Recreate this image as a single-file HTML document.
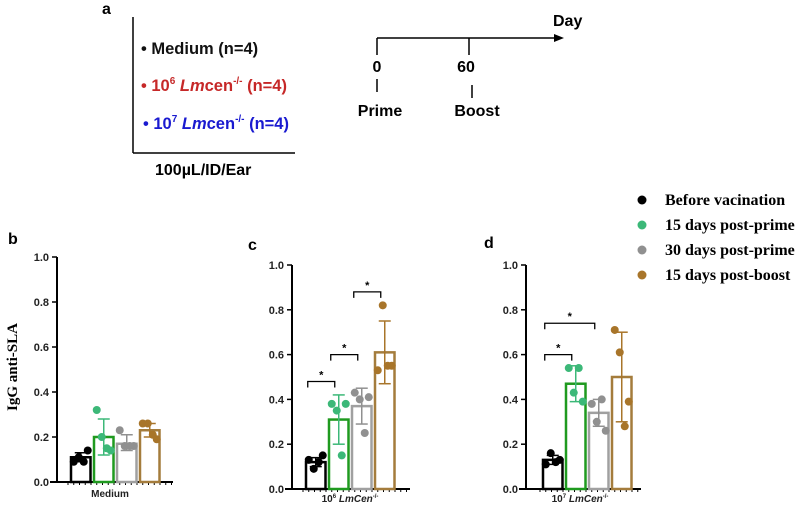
<!DOCTYPE html>
<html><head><meta charset="utf-8"><style>
body{margin:0;background:#fff;width:800px;height:514px;overflow:hidden}
svg{display:block}
.s{font-family:"Liberation Sans",sans-serif;font-weight:bold}
.r{font-family:"Liberation Serif",serif;font-weight:bold}
</style></head><body>
<svg id="fig" width="800" height="514">
<g>
<text class="s" x="102" y="14" font-size="16">a</text>
<line x1="133" y1="17" x2="133" y2="153" stroke="#000" stroke-width="1.5"/>
<line x1="133" y1="153" x2="295" y2="153" stroke="#000" stroke-width="1.5"/>
<text class="s" x="141" y="54" font-size="16.5" fill="#111">• Medium (n=4)</text>
<text class="s" x="141" y="91" font-size="16.5" fill="#c62828">• 10<tspan font-size="10" dy="-7">6</tspan><tspan dy="7" font-style="italic"> Lm</tspan>cen<tspan font-size="10" dy="-7">-/-</tspan><tspan dy="7"> (n=4)</tspan></text>
<text class="s" x="143" y="129" font-size="16.5" fill="#1a1ad0">• 10<tspan font-size="10" dy="-7">7</tspan><tspan dy="7" font-style="italic"> Lm</tspan>cen<tspan font-size="10" dy="-7">-/-</tspan><tspan dy="7"> (n=4)</tspan></text>
<text class="s" x="155" y="175" font-size="16">100µL/ID/Ear</text>
<line x1="377" y1="38" x2="556" y2="38" stroke="#000" stroke-width="1.5"/>
<polygon points="564,38 554,34 554,42" fill="#000"/>
<text class="s" x="553" y="26" font-size="16">Day</text>
<line x1="377" y1="38" x2="377" y2="55" stroke="#000" stroke-width="1.5"/>
<line x1="469" y1="38" x2="469" y2="55" stroke="#000" stroke-width="1.5"/>
<text class="s" x="377" y="72" font-size="16" text-anchor="middle">0</text>
<text class="s" x="466" y="72" font-size="16" text-anchor="middle">60</text>
<line x1="377" y1="79" x2="377" y2="92" stroke="#000" stroke-width="1.5"/>
<line x1="472" y1="85" x2="472" y2="98" stroke="#000" stroke-width="1.5"/>
<text class="s" x="380" y="116" font-size="16" text-anchor="middle">Prime</text>
<text class="s" x="477" y="116" font-size="16" text-anchor="middle">Boost</text>
</g>
<g id="legend"></g>
<g id="charts"></g>
</svg>
<script>
const groups=["Before vacination","15 days post-prime","30 days post-prime","15 days post-boost"];
const dotColors=["#000","#3cb878","#909090","#a8752a"];
const barColors=["#000","#1f9a1f","#a0a0a0","#a47c3c"];
const medMeans=[0.11,0.20,0.17,0.23];
const medHi=[0.13,0.28,0.21,0.26];
const medLo=[0.09,0.12,0.14,0.20];
const medPts=[[0.09,0.11,0.14,0.09],[0.32,0.20,0.14,0.15],[0.23,0.16,0.16,0.16],[0.26,0.26,0.19,0.21]];
const e6Means=[0.12,0.31,0.37,0.61];
const e6Hi=[0.14,0.42,0.45,0.75];
const e6Lo=[0.10,0.20,0.29,0.47];
const e6Pts=[[0.13,0.09,0.15,0.12],[0.38,0.35,0.38,0.15],[0.43,0.40,0.41,0.25],[0.53,0.82,0.55,0.55]];
const e7Means=[0.13,0.47,0.34,0.50];
const e7Hi=[0.15,0.55,0.40,0.70];
const e7Lo=[0.11,0.39,0.28,0.30];
const e7Pts=[[0.11,0.16,0.13,0.12],[0.54,0.43,0.39,0.54],[0.38,0.30,0.26,0.40],[0.71,0.61,0.39,0.28]];
const ticks=[0,0.2,0.4,0.6,0.8,1.0];
const NS="http://www.w3.org/2000/svg";
function mk(p,t,a){const e=document.createElementNS(NS,t);for(const k in a)e.setAttribute(k,a[k]);p.appendChild(e);return e;}
const root=document.getElementById('charts');
const leg=document.getElementById('legend');
groups.forEach((g,i)=>{
  const y=200+i*25;
  const c=mk(leg,'circle',{cx:642,cy:y,r:4.5,fill:dotColors[i]});
  
  
  const t=mk(leg,'text',{x:665,y:y+5,'font-size':16,class:'r'});t.textContent=g;
  
  
});
const panels=[
 {name:'b',ax:57,y0:482,y1:257,bx:70,xend:173,means:medMeans,hi:medHi,lo:medLo,pts:medPts,lab:[8,244],xl:'Medium',xlx:110,xly:497,sigs:[]},
 {name:'c',ax:292,y0:489,y1:265,bx:305,xend:410,means:e6Means,hi:e6Hi,lo:e6Lo,pts:e6Pts,lab:[248,250],xl:'6',xlx:350,xly:502,sigs:[[0,1,0.48],[1,2,0.60],[2,3,0.88]]},
 {name:'d',ax:526,y0:489,y1:265,bx:542,xend:641,means:e7Means,hi:e7Hi,lo:e7Lo,pts:e7Pts,lab:[484,248],xl:'7',xlx:580,xly:502,sigs:[[0,1,0.6],[0,2,0.74]]}
];
panels.forEach(P=>{
  const g=mk(root,'g',{});
  
  
  const y=v=>P.y0-(P.y0-P.y1)*v;
  const bw=21.5,step=23;
  const bxf=i=>P.bx+i*step;
  const l=mk(g,'text',{x:P.lab[0],y:P.lab[1],'font-size':16,class:'s'});l.textContent=P.name;
  mk(g,'line',{x1:P.ax,y1:P.y1,x2:P.ax,y2:P.y0,stroke:'#000','stroke-width':2});
  mk(g,'line',{x1:P.ax-7,y1:P.y0,x2:P.xend,y2:P.y0,stroke:'#000','stroke-width':2});
  for(let x=P.bx-2;x<P.xend;x+=5.75)mk(g,'line',{x1:x,y1:P.y0,x2:x,y2:P.y0+3,stroke:'#000','stroke-width':1});
  ticks.forEach(t=>{
    mk(g,'line',{x1:P.ax-5,y1:y(t),x2:P.ax,y2:y(t),stroke:'#000','stroke-width':1.5});
    const tx=mk(g,'text',{x:P.ax-8,y:y(t)+4,'font-size':11,'text-anchor':'end',class:'s',fill:'#222'});tx.textContent=t.toFixed(1);
    
    
  });
  P.means.forEach((m,i)=>{
    const r=mk(g,'rect',{x:bxf(i)+1,y:y(m),width:bw-2,height:P.y0-y(m),fill:'#fff',stroke:barColors[i],'stroke-width':2.5});
    
    
    const cx=bxf(i)+bw/2;
    mk(g,'line',{x1:cx,y1:y(P.hi[i]),x2:cx,y2:y(P.lo[i]),stroke:dotColors[i],'stroke-width':1.5});
    mk(g,'line',{x1:cx-6,y1:y(P.hi[i]),x2:cx+6,y2:y(P.hi[i]),stroke:dotColors[i],'stroke-width':1.5});
    mk(g,'line',{x1:cx-6,y1:y(P.lo[i]),x2:cx+6,y2:y(P.lo[i]),stroke:dotColors[i],'stroke-width':1.5});
    const offs=[-7,-2,7,3];
    P.pts[i].forEach((v,j)=>{
      const c=mk(g,'circle',{cx:cx+offs[j],cy:y(v),r:4,fill:dotColors[i]});
      
      
    });
  });
  P.sigs.forEach(s=>{
    const x1=bxf(s[0])+bw/2-8,x2=bxf(s[1])+bw/2-4,yy=y(s[2]);
    mk(g,'path',{d:`M${x1},${yy+6}V${yy}H${x2}V${yy+6}`,fill:'none',stroke:'#000','stroke-width':1.3});
    const t=mk(g,'text',{x:(x1+x2)/2,y:yy-3,'font-size':11,'text-anchor':'middle',class:'s'});t.textContent='*';
    
    
  });
  const xl=mk(g,'text',{x:P.xlx,y:P.xly,'font-size':10,'text-anchor':'middle',class:'s',fill:'#222'});
  
  
  if(P.xl==='Medium'){xl.textContent='Medium';}
  else{xl.innerHTML=`10<tspan font-size="6" dy="-4">${P.xl}</tspan><tspan dy="4" font-style="italic"> LmCen</tspan><tspan font-size="6" dy="-4">-/-</tspan>`;}
});
const yt=mk(root,'text',{x:0,y:0,'font-size':15,'text-anchor':'middle',class:'r',transform:'translate(17,367) rotate(-90)'});
yt.textContent='IgG anti-SLA';


</script>
</body></html>
